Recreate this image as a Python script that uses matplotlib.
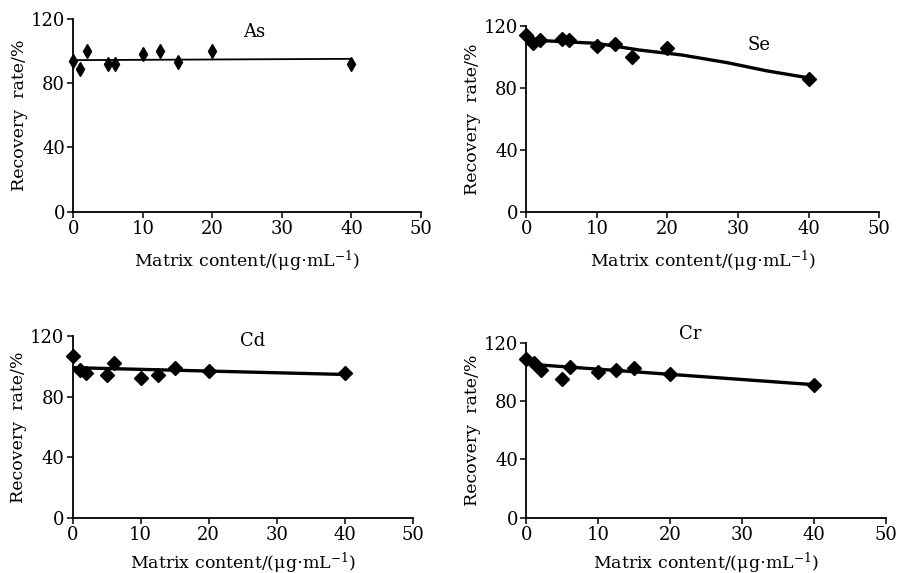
import numpy as np
import matplotlib
matplotlib.use("Agg")
import matplotlib.pyplot as plt

plt.rcParams['font.family'] = ['DejaVu Serif']
plt.rcParams['mathtext.fontset'] = 'dejavuserif'

# matrix content levels (ug/mL)
conc = [0, 1, 2, 5, 6, 10, 12.5, 15, 20, 40]

# recovery rate (%)
as_rec = [94, 89, 100, 92, 92, 98, 100, 93.5, 100, 92]
se_rec = [114, 109, 111, 111.5, 111, 107, 108.5, 100, 105.5, 85.5]
cd_rec = [107, 97.5, 95.5, 94, 102.5, 92.5, 94, 98.8, 97, 95.5]
cr_rec = [108.5, 106, 101, 95, 103.5, 100, 101, 103, 98.3, 91]

# trend lines drawn in the figure
as_fit_x, as_fit_y = [0, 40], [94.4, 95.2]
se_fit_x = [0, 2.5, 10, 16, 22, 28.5, 34, 40]
se_fit_y = [112, 110.5, 108.8, 104.5, 101.3, 96.3, 91.1, 86.5]
cd_fit_x, cd_fit_y = [0, 40], [99.1, 94.6]
cr_fit_x, cr_fit_y = [0, 2, 40], [108, 104.7, 91.2]

panels = [
    # name, y, fit x, fit y, axes rect, label pos, marker, ms, line width, xlabel pad
    ("As", as_rec, as_fit_x, as_fit_y, [0.0816, 0.6305, 0.3872, 0.3363], (26, 112), 'd', 7, 1.3, 8),
    ("Se", se_rec, se_fit_x, se_fit_y, [0.5861, 0.6305, 0.3928, 0.3241], (33, 107.5), 'D', 7.3, 2.4, 8),
    ("Cd", cd_rec, cd_fit_x, cd_fit_y, [0.0810, 0.0965, 0.3786, 0.3171], (26.4, 116.5), 'D', 7.3, 2.4, 5),
    ("Cr", cr_rec, cr_fit_x, cr_fit_y, [0.5861, 0.0965, 0.4009, 0.3054], (22.8, 126), 'D', 7.3, 2.4, 5),
]

fig = plt.figure(figsize=(8.98, 5.73), dpi=100)

for name, rec, fx, fy, rect, lpos, mk, ms, lw, xpad in panels:
    ax = fig.add_axes(rect)
    ax.plot(fx, fy, color='black', lw=lw, solid_capstyle='butt', zorder=2)
    ax.plot(conc, rec, linestyle='none', marker=mk, ms=ms, color='black',
            clip_on=False, zorder=3)
    ax.text(lpos[0], lpos[1], name, ha='center', va='center', fontsize=13,
            clip_on=False)

    ax.set_xlim(0, 50)
    ax.set_ylim(0, 120)
    ax.set_xticks([0, 10, 20, 30, 40, 50])
    ax.set_yticks([0, 40, 80, 120])
    ax.spines['top'].set_visible(False)
    ax.spines['right'].set_visible(False)
    for s in ('left', 'bottom'):
        ax.spines[s].set_linewidth(1.3)
    ax.tick_params(direction='out', length=4, width=1.1, labelsize=13, pad=2)
    ax.set_xlabel(r'Matrix content/($\mathrm{\mu}$g$\cdot$mL$^{-1}$)', fontsize=12.5, labelpad=xpad)
    ax.set_ylabel('Recovery  rate/%', fontsize=12.5, labelpad=2)

fig.savefig('out.png', dpi=100, facecolor='white')
